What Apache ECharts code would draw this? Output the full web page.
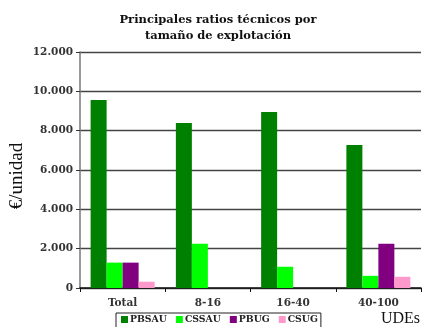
<!DOCTYPE html>
<html>
<head>
<meta charset="utf-8">
<style>
  html, body { margin: 0; padding: 0; background: #fff; }
  #chart { width: 422px; height: 327px; }
</style>
<script src="https://cdn.jsdelivr.net/npm/echarts@6/dist/echarts.min.js"></script>
</head>
<body>
<div id="chart"></div>
<script>
// Farm size classes (UDE) and the per-unit technical ratios for each
const categories = ['Total', '8-16', '16-40', '40-100'];
const pbsau = [9560, 8390, 8950, 7270];
const cssau = [1290, 2250, 1080, 620];
const pbug  = [1290, 0, 0, 2250];
const csug  = [320, 0, 0, 570];
const yTicks = [0, 2000, 4000, 6000, 8000, 10000, 12000];

const serif = '"DejaVu Serif", serif';
const fmt = v => v === 0 ? '0' : String(v).replace(/\B(?=(\d{3})+(?!\d))/g, '.');

const chart = echarts.init(document.getElementById('chart'), null, { renderer: 'canvas' });

const mkSeries = (name, data, color) => ({
  name, type: 'bar', data, barWidth: 16, barGap: '0%',
  itemStyle: { color }, emphasis: { disabled: true }
});

chart.setOption({
  animation: false,
  backgroundColor: '#fff',
  grid: { left: 80, right: 1, top: 52, bottom: 39, outerBoundsMode: 'none' },
  legend: {
    data: ['PBSAU', 'CSSAU', 'PBUG', 'CSUG'],
    left: 116, top: 313,
    itemWidth: 7, itemHeight: 7, itemGap: 9,
    padding: [2, 3, 4, 5],
    borderColor: '#222', borderWidth: 1,
    icon: 'rect',
    textStyle: { fontFamily: serif, fontWeight: 'bold', fontSize: 9.3, color: '#222', padding: [0, 0, 0, -3] }
  },
  xAxis: {
    type: 'category', data: categories,
    axisLine: { lineStyle: { color: '#111', width: 1.5 } },
    axisTick: { show: true, length: 4, lineStyle: { color: '#111' } },
    axisLabel: { fontFamily: serif, fontWeight: 'bold', fontSize: 10.5, color: '#333', margin: 10 }
  },
  yAxis: {
    type: 'value', min: yTicks[0], max: yTicks[yTicks.length - 1], interval: yTicks[1] - yTicks[0],
    axisLine: { show: true, lineStyle: { color: '#777', width: 1.5 } },
    axisTick: { show: true, length: 4, lineStyle: { color: '#333' } },
    axisLabel: { fontFamily: serif, fontWeight: 'bold', fontSize: 10.5, color: '#333', margin: 7, formatter: fmt },
    splitLine: { lineStyle: { color: '#444', width: 1.3 } }
  },
  graphic: [
    {
      type: 'text', x: 218, y: 12,
      style: {
        text: 'Principales ratios técnicos por\ntamaño de explotación',
        font: 'bold 11.5px "DejaVu Serif", serif', fill: '#111',
        align: 'center', lineHeight: 16
      }
    },
    {
      type: 'text', x: 17, y: 176, rotation: Math.PI / 2,
      style: { text: '€/unidad', font: '19px "Liberation Serif", serif', fill: '#111', align: 'center', verticalAlign: 'middle' }
    },
    {
      type: 'text', x: 420, y: 311,
      style: { text: 'UDEs', font: '16px "Liberation Serif", serif', fill: '#111', align: 'right', verticalAlign: 'top' }
    }
  ],
  series: [
    mkSeries('PBSAU', pbsau, '#008000'),
    mkSeries('CSSAU', cssau, '#00ff00'),
    mkSeries('PBUG', pbug, '#800080'),
    mkSeries('CSUG', csug, '#ff99cc')
  ]
});
</script>
</body>
</html>
